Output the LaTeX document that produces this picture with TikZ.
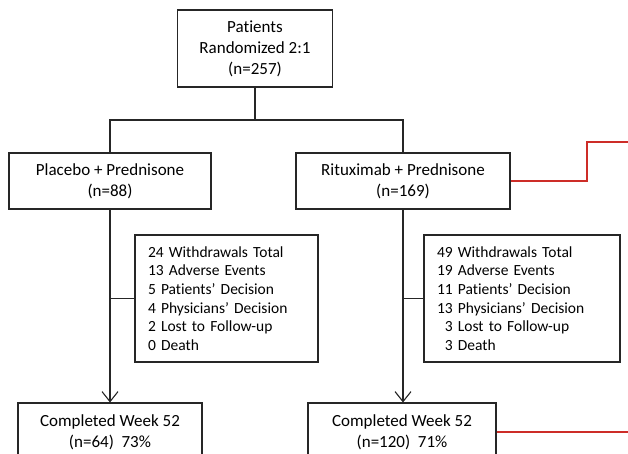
\documentclass[tikz,border=0pt]{standalone}
\usepackage{fontspec}
\setmainfont{Carlito}[Ligatures={NoCommon}]
\usetikzlibrary{arrows.meta}
\definecolor{redline}{RGB}{205,45,40}
\begin{document}
\begin{tikzpicture}[x=1pt,y=-1pt,
  line width=1.1pt,
  mainbox/.style={draw=black!85, line width=1.1pt, align=center, inner sep=0pt,
    font=\fontsize{17}{21}\selectfont},
  listbox/.style={draw=black!85, line width=1.1pt, align=left, inner ysep=0pt, inner xsep=13pt,
    font=\fontsize{15.5}{18.7}\selectfont},
  conn/.style={draw=black!85, line width=1.1pt},
  arr/.style={conn, -{Straight Barb[length=10pt,width=16pt,line width=1.1pt]}},
  redconn/.style={draw=redline, line width=1.4pt}]
\useasboundingbox (0,0) rectangle (628,454);
\clip (0,0) rectangle (628,454);
\fill[white] (0,0) rectangle (628,454);

\node[mainbox, minimum width=155pt, minimum height=77pt] (top) at (255,48.5)
  {Patients\\Randomized 2:1\\(n=257)};
\node[mainbox, minimum width=202pt, minimum height=56pt] (lb) at (110,181)
  {Placebo + Prednisone\\(n=88)};
\node[mainbox, minimum width=214pt, minimum height=56pt] (rb) at (403,181)
  {Rituximab + Prednisone\\(n=169)};

\node[listbox, text width=157pt, minimum height=127pt] (ll) at (226.5,298.5)
  {24 Withdrawals Total\\13 Adverse Events\\5 Patients’ Decision\\4 Physicians’ Decision\\2 Lost to Follow-up\\0 Death};
\node[listbox, text width=170pt, minimum height=127pt] (rl) at (522,298.5)
  {49 Withdrawals Total\\19 Adverse Events\\11 Patients’ Decision\\13 Physicians’ Decision\\\hphantom{1}3 Lost to Follow-up\\\hphantom{1}3 Death};

\node[mainbox, minimum width=184pt, minimum height=58pt] (lc) at (110,432)
  {Completed Week 52\\(n=64)\ \ 73\%};
\node[mainbox, minimum width=188pt, minimum height=58pt] (rc) at (402,432)
  {Completed Week 52\\(n=120)\ \ 71\%};

\coordinate (split) at (255,120);
\draw[conn] (top.south) -- (split);
\draw[conn] (lb.north) |- (split) -| (rb.north);

\draw[arr] (lb.south) -- (lb.south |- lc.north);
\draw[arr] (rb.south) -- (rb.south |- rc.north);

\draw[conn] (ll.west) -- (ll.west -| lb.south);
\draw[conn] (rl.west) -- (rl.west -| rb.south);

\coordinate (rbend) at (587,142);
\coordinate (rEndA) at (640,142);
\coordinate (rEndB) at (640,432);
\draw[redconn] (rb.east) -| (rbend) -- (rEndA);
\draw[redconn] (rc.east) -- (rEndB);
\end{tikzpicture}
\end{document}
